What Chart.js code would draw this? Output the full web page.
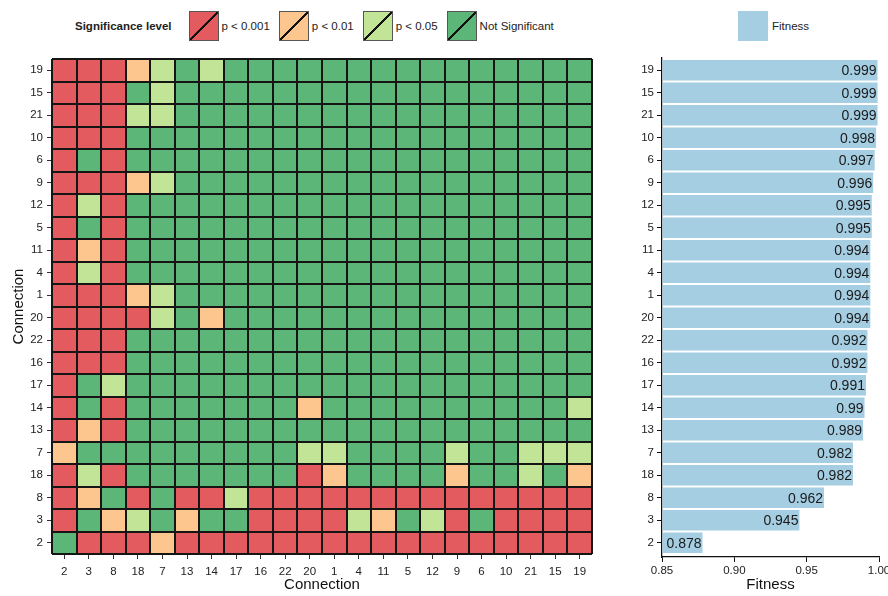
<!DOCTYPE html>
<html>
<head>
<meta charset="utf-8">
<script src="https://cdn.jsdelivr.net/npm/chart.js@4.4.0/dist/chart.umd.min.js"></script>
<style>
  html, body { margin: 0; padding: 0; background: #fff; width: 888px; height: 596px; overflow: hidden;
    font-family: "Liberation Sans", Arial, sans-serif; color: #222; }
  #heat { position: absolute; left: 0; top: 0; }
  #fit { position: absolute; left: 600px; top: 0; }
  .legend { position: absolute; top: 10px; height: 31px; display: flex; align-items: center; font-size: 11.5px; color: #222; }
  .legend .title { font-weight: bold; margin-right: 17px; }
  .legend .item { display: flex; align-items: center; margin-right: 9px; }
  .legend .key { width: 30px; height: 30px; box-sizing: border-box; border: 1px solid #555; margin-right: 3px; }
  .legend .plain { border: none; margin-right: 4px; }
</style>
</head>
<body>
<div class="legend" id="sigLegend" style="left:75px"></div>
<div class="legend" id="fitLegend" style="left:738px"></div>
<canvas id="heat" width="600" height="596"></canvas>
<canvas id="fit" width="288" height="596"></canvas>
<script>
// Significance classes: 0 = p < 0.001, 1 = p < 0.01, 2 = p < 0.05, 3 = not significant
const sigLabels = ['p < 0.001', 'p < 0.01', 'p < 0.05', 'Not Significant'];
const sigColors = ['#e35b5f', '#fdc68e', '#c2e497', '#5bb678'];

// Rows listed top to bottom, columns left to right
const rowLabels = ['19', '15', '21', '10', '6', '9', '12', '5', '11', '4', '1', '20', '22', '16', '17', '14', '13', '7', '18', '8', '3', '2'];
const colLabels = ['2', '3', '8', '18', '7', '13', '14', '17', '16', '22', '20', '1', '4', '11', '5', '12', '9', '6', '10', '21', '15', '19'];

const significance = [
  [0,0,0,1,2,3,2,3,3,3,3,3,3,3,3,3,3,3,3,3,3,3], // 19
  [0,0,0,3,2,3,3,3,3,3,3,3,3,3,3,3,3,3,3,3,3,3], // 15
  [0,0,0,2,2,3,3,3,3,3,3,3,3,3,3,3,3,3,3,3,3,3], // 21
  [0,0,0,3,3,3,3,3,3,3,3,3,3,3,3,3,3,3,3,3,3,3], // 10
  [0,3,0,3,3,3,3,3,3,3,3,3,3,3,3,3,3,3,3,3,3,3], // 6
  [0,0,0,1,2,3,3,3,3,3,3,3,3,3,3,3,3,3,3,3,3,3], // 9
  [0,2,0,3,3,3,3,3,3,3,3,3,3,3,3,3,3,3,3,3,3,3], // 12
  [0,3,0,3,3,3,3,3,3,3,3,3,3,3,3,3,3,3,3,3,3,3], // 5
  [0,1,0,3,3,3,3,3,3,3,3,3,3,3,3,3,3,3,3,3,3,3], // 11
  [0,2,0,3,3,3,3,3,3,3,3,3,3,3,3,3,3,3,3,3,3,3], // 4
  [0,0,0,1,2,3,3,3,3,3,3,3,3,3,3,3,3,3,3,3,3,3], // 1
  [0,0,0,0,2,3,1,3,3,3,3,3,3,3,3,3,3,3,3,3,3,3], // 20
  [0,0,0,3,3,3,3,3,3,3,3,3,3,3,3,3,3,3,3,3,3,3], // 22
  [0,0,0,3,3,3,3,3,3,3,3,3,3,3,3,3,3,3,3,3,3,3], // 16
  [0,3,2,3,3,3,3,3,3,3,3,3,3,3,3,3,3,3,3,3,3,3], // 17
  [0,3,0,3,3,3,3,3,3,3,1,3,3,3,3,3,3,3,3,3,3,2], // 14
  [0,1,0,3,3,3,3,3,3,3,3,3,3,3,3,3,3,3,3,3,3,3], // 13
  [1,3,3,3,3,3,3,3,3,3,2,2,3,3,3,3,2,3,3,2,2,2], // 7
  [0,2,0,3,3,3,3,3,3,3,0,1,3,3,3,3,1,3,3,2,3,1], // 18
  [0,1,3,0,3,0,0,2,0,0,0,0,0,0,0,0,0,0,0,0,0,0], // 8
  [0,3,1,2,3,1,3,3,0,0,0,0,2,1,3,2,0,3,0,0,0,0], // 3
  [3,0,0,0,1,0,0,0,0,0,0,0,0,0,0,0,0,0,0,0,0,0]  // 2
];

const fitness = [0.999, 0.999, 0.999, 0.998, 0.997, 0.996, 0.995, 0.995, 0.994, 0.994, 0.994,
                 0.994, 0.992, 0.992, 0.991, 0.99, 0.989, 0.982, 0.982, 0.962, 0.945, 0.878];

const FONT = '"Liberation Sans", Arial, Helvetica, sans-serif';
const INK = '#222';
const CELL_LINE = '#151515';

// ---- legends ----
function keyBox(color, slash) {
  const d = document.createElement('span');
  d.className = 'key' + (slash ? '' : ' plain');
  d.style.background = slash
    ? `linear-gradient(to bottom right, ${color} calc(50% - 0.8px), #111 calc(50% - 0.8px), #111 calc(50% + 0.8px), ${color} calc(50% + 0.8px))`
    : color;
  return d;
}
const sigLegend = document.getElementById('sigLegend');
const ttl = document.createElement('span');
ttl.className = 'title';
ttl.textContent = 'Significance level';
sigLegend.appendChild(ttl);
sigLabels.forEach((lab, k) => {
  const it = document.createElement('span');
  it.className = 'item';
  it.appendChild(keyBox(sigColors[k], true));
  const t = document.createElement('span');
  t.textContent = lab;
  it.appendChild(t);
  sigLegend.appendChild(it);
});
const fitLegend = document.getElementById('fitLegend');
fitLegend.appendChild(keyBox('#a6cee3', false));
const ft = document.createElement('span');
ft.textContent = 'Fitness';
fitLegend.appendChild(ft);

// ---- heatmap: one floating-bar dataset per row, cell outlines from overlay grids ----
new Chart(document.getElementById('heat'), {
  type: 'bar',
  data: {
    labels: colLabels,
    datasets: rowLabels.map((r, i) => ({
      label: r,
      data: colLabels.map(() => [i, i + 1]),
      backgroundColor: significance[i].map(c => sigColors[c]),
      borderWidth: 0,
      grouped: false,
      categoryPercentage: 1,
      barPercentage: 1
    }))
  },
  options: {
    responsive: false,
    animation: false,
    layout: { padding: { top: 59, right: 8, left: 0, bottom: 0 } },
    plugins: { legend: { display: false }, tooltip: { enabled: false } },
    scales: {
      x: {
        type: 'category',
        offset: true,
        grid: { drawOnChartArea: false, offset: false, tickLength: 5, color: '#333', lineWidth: 1 },
        border: { display: false },
        ticks: { color: INK, font: { family: FONT, size: 11.5 }, padding: 6, maxRotation: 0, autoSkip: false },
        title: { display: true, text: 'Connection', color: '#111', font: { family: FONT, size: 15 }, padding: { top: 0, bottom: 2 } },
        afterFit: s => { s.height = 42; s.paddingLeft = 0; s.paddingRight = 0; }
      },
      y: {
        type: 'linear',
        reverse: true,
        min: 0,
        max: rowLabels.length,
        afterBuildTicks: s => { s.ticks = rowLabels.map((_, i) => ({ value: i + 0.5 })); },
        grid: { drawOnChartArea: false, tickLength: 5, color: '#333', lineWidth: 1 },
        border: { display: false },
        ticks: { color: INK, font: { family: FONT, size: 11.5 }, padding: 4, autoSkip: false,
                 callback: v => rowLabels[Math.floor(v)] },
        title: { display: true, text: 'Connection', color: '#111', font: { family: FONT, size: 15 }, padding: { top: 10, bottom: 0 } },
        afterFit: s => { s.width = 52; s.paddingTop = 0; s.paddingBottom = 0; }
      },
      // column boundaries, drawn above the cells
      xCells: {
        type: 'category',
        position: 'bottom',
        offset: true,
        grid: { z: 1, drawOnChartArea: true, offset: true, drawTicks: false, color: CELL_LINE, lineWidth: 2 },
        border: { display: false },
        ticks: { display: false },
        afterFit: s => { s.height = 0; s.paddingLeft = 0; s.paddingRight = 0; }
      },
      // row boundaries, drawn above the cells
      yCells: {
        type: 'linear',
        position: 'left',
        reverse: true,
        min: 0,
        max: rowLabels.length,
        afterBuildTicks: s => { s.ticks = [...rowLabels.map((_, i) => ({ value: i })), { value: rowLabels.length }]; },
        grid: { z: 1, drawOnChartArea: true, drawTicks: false, color: CELL_LINE, lineWidth: 2 },
        border: { display: false },
        ticks: { display: false },
        afterFit: s => { s.width = 0; s.paddingTop = 0; s.paddingBottom = 0; }
      }
    }
  }
});

// ---- fitness bars ----
const valueLabels = {
  id: 'valueLabels',
  afterDatasetsDraw(chart) {
    const ctx = chart.ctx;
    const meta = chart.getDatasetMeta(0);
    ctx.save();
    ctx.font = '14px ' + FONT;
    ctx.fillStyle = '#1a1a1a';
    ctx.textAlign = 'right';
    ctx.textBaseline = 'middle';
    meta.data.forEach((bar, i) => {
      ctx.fillText(String(fitness[i]), bar.x - 1, bar.y + 1);
    });
    ctx.restore();
  }
};

new Chart(document.getElementById('fit'), {
  type: 'bar',
  data: {
    datasets: [{
      label: 'Fitness',
      data: fitness.map((v, i) => ({ x: v, y: i })),
      backgroundColor: '#a6cee3',
      borderWidth: 0,
      base: 0.85,
      categoryPercentage: 1,
      barPercentage: 0.91
    }]
  },
  options: {
    indexAxis: 'y',
    responsive: false,
    animation: false,
    layout: { padding: { top: 58, right: 9, left: 0, bottom: 0 } },
    plugins: { legend: { display: false }, tooltip: { enabled: false } },
    scales: {
      x: {
        type: 'linear',
        min: 0.85,
        max: 1.0,
        afterBuildTicks: s => { s.ticks = [0.85, 0.9, 0.95, 1.0].map(v => ({ value: v })); },
        grid: { drawOnChartArea: false, tickLength: 5, color: '#111', lineWidth: 1 },
        border: { display: true, color: '#111', width: 1.3 },
        ticks: { color: INK, font: { family: FONT, size: 11.5 }, padding: 2, maxRotation: 0,
                 callback: v => Number(v).toFixed(2) },
        title: { display: true, text: 'Fitness', color: '#111', font: { family: FONT, size: 15 }, padding: { top: 0, bottom: 2 } },
        afterFit: s => { s.height = 39; s.paddingLeft = 0; s.paddingRight = 0; }
      },
      y: {
        type: 'linear',
        reverse: true,
        offset: false,
        min: -0.544,
        max: rowLabels.length - 0.367,
        afterBuildTicks: s => { s.ticks = rowLabels.map((_, i) => ({ value: i })); },
        grid: { drawOnChartArea: false, offset: false, tickLength: 5, color: '#111', lineWidth: 1 },
        border: { display: true, color: '#111', width: 1.3 },
        ticks: { color: INK, font: { family: FONT, size: 11.5 }, padding: 3, autoSkip: false,
                 callback: v => rowLabels[v] },
        afterFit: s => { s.width = 62; s.paddingTop = 0; s.paddingBottom = 0; }
      }
    }
  },
  plugins: [valueLabels]
});
</script>
</body>
</html>
